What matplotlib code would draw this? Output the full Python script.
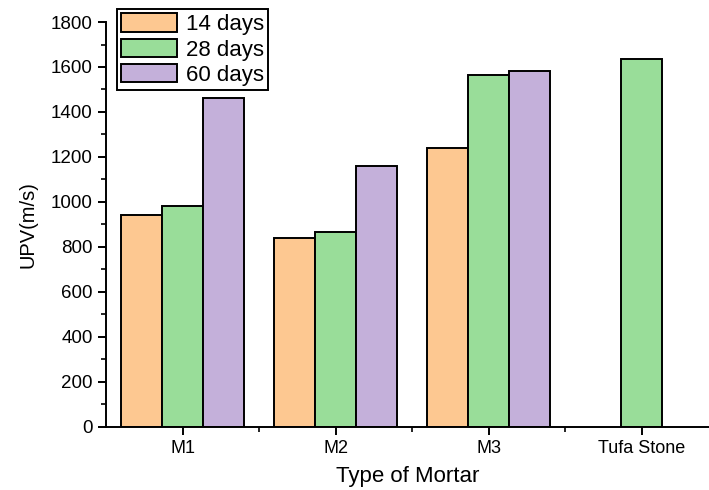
import numpy as np
import matplotlib.pyplot as plt

plt.rcParams['font.family'] = ['Liberation Sans', 'DejaVu Sans']

groups = ['M1', 'M2', 'M3', 'Tufa Stone']
days14 = [940, 840, 1240, np.nan]
days28 = [980, 865, 1565, 1635]
days60 = [1460, 1160, 1580, np.nan]

colors = ['#FDC891', '#99DD99', '#C4B0DA']
labels = ['14 days', '28 days', '60 days']

fig = plt.figure(figsize=(7.09, 4.90), dpi=100)
ax = fig.add_axes([0.1495, 0.1286, 0.8505, 0.8265])

x = np.arange(len(groups))
w = 0.268
ax.bar(x[:3] - w, days14[:3], w, color=colors[0], edgecolor='black', linewidth=1.4, label=labels[0])
ax.bar(x[:3], days28[:3], w, color=colors[1], edgecolor='black', linewidth=1.4, label=labels[1])
ax.bar(x[:3] + w, days60[:3], w, color=colors[2], edgecolor='black', linewidth=1.4, label=labels[2])
# tufa stone only has one value, centered on its tick
ax.bar(x[3], days28[3], w, color=colors[1], edgecolor='black', linewidth=1.4)

ax.set_xlim(-0.5, 3.44)
ax.set_ylim(0, 1800)
ax.set_xticks(x)
ax.set_xticklabels(groups, fontsize=13)
ax.set_xticks([0.5, 1.5, 2.5], minor=True)
ax.set_yticks(np.arange(0, 1801, 200))
ax.set_yticks(np.arange(100, 1800, 200), minor=True)
ax.tick_params(axis='y', labelsize=13.5, width=1.4, length=6)
ax.tick_params(axis='x', width=1.4, length=6)
ax.tick_params(which='minor', width=1.2, length=3.5)

for s in ['top', 'right']:
    ax.spines[s].set_visible(False)
for s in ['left', 'bottom']:
    ax.spines[s].set_linewidth(1.4)

ax.set_xlabel('Type of Mortar', fontsize=16, labelpad=6)
ax.set_ylabel('UPV(m/s)', fontsize=14.5, labelpad=10)

leg = ax.legend(loc='upper left', bbox_to_anchor=(0.018, 1.032), borderaxespad=0,
                fontsize=16, fancybox=False, edgecolor='black', framealpha=1,
                handlelength=2.5, handleheight=0.9, labelspacing=0.15,
                handletextpad=0.4, borderpad=0.2)
leg.get_frame().set_linewidth(1.4)

fig.savefig('out.png', dpi=100)
